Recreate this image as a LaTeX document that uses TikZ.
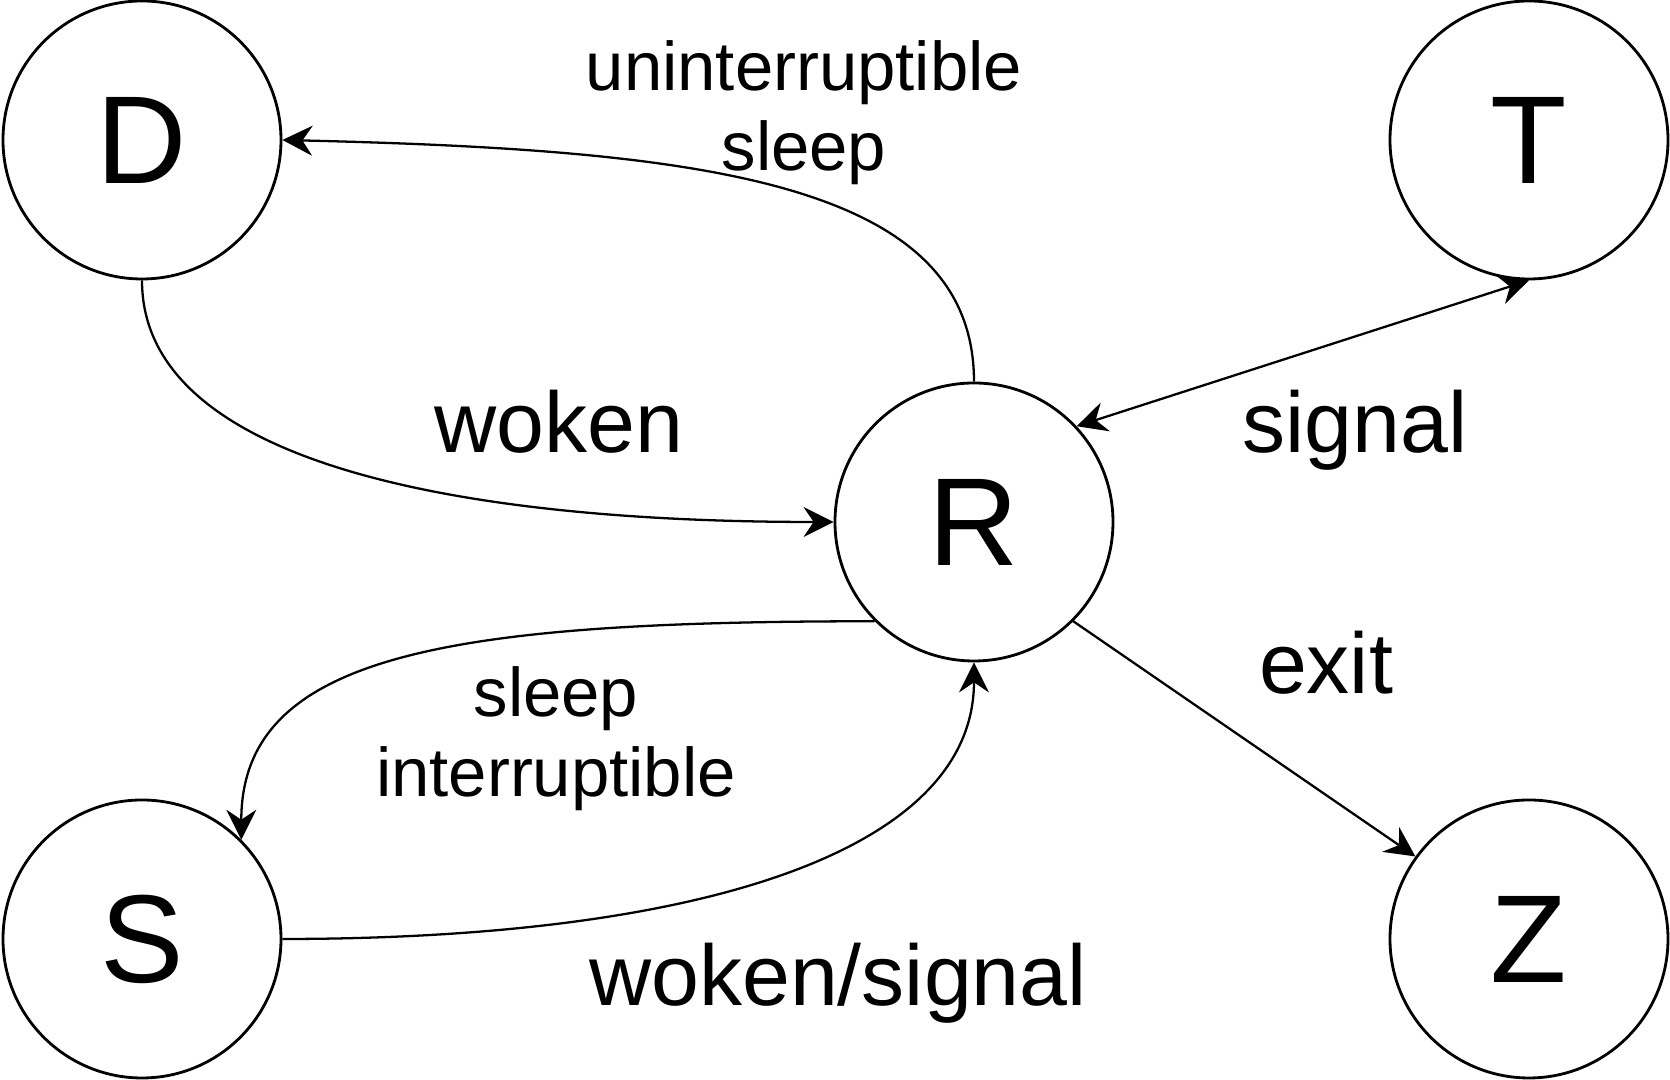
\documentclass[tikz,border=0pt]{standalone}
\usepackage{fontspec}
\setmainfont{Liberation Sans}
\usepackage{tikz}
\usetikzlibrary{arrows.meta,positioning}
\definecolor{Ink}{HTML}{000000}
\tikzset{
  state/.style={circle,draw=Ink,line width=0.8pt,minimum size=2.78cm,inner sep=0pt,text=Ink,font=\fontsize{35.6}{40}\selectfont},
  edgeLbl/.style={text=Ink,font=\fontsize{24.5}{29}\selectfont,anchor=base},
  edgeLblSmall/.style={text=Ink,font=\fontsize{19.6}{22.8}\selectfont,align=center},
  arrow/.style={-{Stealth[length=3mm,width=3mm,inset=1mm]},line width=0.65pt,draw=Ink},
  bothArrow/.style={{Stealth[length=3mm,width=3mm,inset=1mm]}-{Stealth[length=3mm,width=3mm,inset=1mm]},line width=0.65pt,draw=Ink}
}
\begin{document}
\begin{tikzpicture}[x=1cm,y=1cm]
  \useasboundingbox (0,0) rectangle (16.70,10.80);
  % process states
  \node[state] (D) at (1.42,9.40) {D};
  \node[state] (T) at (15.29,9.40) {T};
  \node[state] (R) at (9.74,5.58) {R};
  \node[state] (S) at (1.42,1.41) {S};
  \node[state] (Z) at (15.29,1.41) {Z};

  % transitions
  \draw[arrow] (R.north) .. controls +(0,2.0) and +(4.2,-0.1) .. (D.east);
  \draw[arrow] (D.south) .. controls +(0,-1.8) and +(-3.84,0) .. (R.west);
  \draw[arrow] (R.225) .. controls +(-4.25,0) and +(0,1.86) .. (S.45);
  \draw[arrow] (S.east) .. controls +(4.18,0) and +(0,-1.89) .. (R.south);
  \draw[bothArrow] (R.43) -- (T.south);
  \draw[arrow] (R.-45) -- (Z.144);

  % labels
  \node[edgeLblSmall] (lblD) at (8.04,9.675) {uninterruptible\\sleep};
  \node[edgeLbl] (lblWoken) at (5.59,6.27) {woken};
  \node[edgeLbl] (lblSignal) at (13.55,6.27) {signal};
  \node[edgeLblSmall] (lblS) at (5.56,3.41) {sleep\\interruptible};
  \node[edgeLbl] (lblExit) at (13.26,3.86) {exit};
  \node[edgeLbl] (lblWS) at (8.38,0.74) {woken/signal};
\end{tikzpicture}
\end{document}
